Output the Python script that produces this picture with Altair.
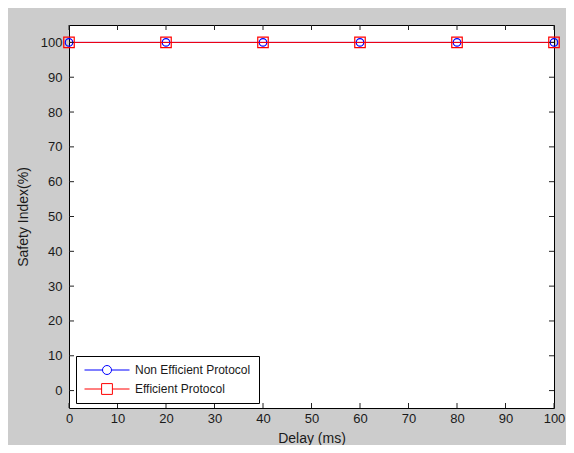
import altair as alt
import pandas as pd

# ---- data ----
delays = [0, 20, 40, 60, 80, 100]
non_efficient = [100, 100, 100, 100, 100, 100]
efficient = [100, 100, 100, 100, 100, 100]
series_names = ["Non Efficient Protocol", "Efficient Protocol"]
series_colors = ["#0000ff", "#ff0000"]
x_ticks = [0, 10, 20, 30, 40, 50, 60, 70, 80, 90, 100]
y_ticks = [0, 10, 20, 30, 40, 50, 60, 70, 80, 90, 100]

df = pd.DataFrame({
    "delay": delays + delays,
    "safety": non_efficient + efficient,
    "series": [series_names[0]] * len(delays) + [series_names[1]] * len(delays),
})
xt = pd.DataFrame({"t": x_ticks})
yt = pd.DataFrame({"t": y_ticks})

W, H = 485, 383
FONT = "Liberation Sans"
TXT = "#1a1a1a"

x_scale = alt.Scale(domain=[0, 100], nice=False, zero=False)
y_scale = alt.Scale(domain=[-5, 105], nice=False, zero=False)

x_axis = alt.Axis(values=x_ticks, title="Delay (ms)", ticks=False, domain=False, grid=False,
                  labelFlush=False, labelOverlap=False, labelPadding=4, titlePadding=6,
                  labelFont=FONT, labelFontSize=13, labelColor=TXT,
                  titleFont=FONT, titleFontSize=14, titleFontWeight="normal", titleColor=TXT)
y_axis = alt.Axis(values=y_ticks, title="Safety Index(%)", ticks=False, domain=False, grid=False,
                  labelFlush=False, labelOverlap=False, labelPadding=7, titlePadding=10,
                  labelFont=FONT, labelFontSize=13, labelColor=TXT,
                  titleFont=FONT, titleFontSize=14, titleFontWeight="normal", titleColor=TXT)

X = alt.X("delay:Q", scale=x_scale, axis=x_axis)
Y = alt.Y("safety:Q", scale=y_scale, axis=y_axis)

base = alt.Chart(df)

layers = []
for name, color, shape, size in [
    (series_names[0], series_colors[0], "circle", 56),
    (series_names[1], series_colors[1], "square", 110),
]:
    sub = base.transform_filter(alt.datum.series == name)
    layers.append(sub.mark_line(color=color, strokeWidth=1).encode(x=X, y=Y))
    layers.append(sub.mark_point(shape=shape, color=color, filled=False, size=size,
                                 strokeWidth=1.2, opacity=1).encode(x=X, y=Y))

circle_path = "M-1,0L-0.2,0M0.2,0L1,0M0.2,0A0.2,0.2,0,1,1,-0.2,0A0.2,0.2,0,1,1,0.2,0Z"
square_path = "M-1,0L-0.24,0M0.24,0L1,0M-0.24,-0.24L0.24,-0.24L0.24,0.24L-0.24,0.24Z"

leg = alt.Legend(title=None, orient="none", legendX=7, legendY=331, direction="vertical",
                 fillColor="white", strokeColor="black", padding=8, cornerRadius=0,
                 symbolSize=2025, symbolStrokeWidth=1, symbolOpacity=1, symbolOffset=0,
                 clipHeight=12, rowPadding=7, labelOffset=5,
                 labelFont=FONT, labelFontSize=12, labelColor=TXT)

legend_layer = base.mark_point(opacity=0, filled=False).encode(
    x=X, y=Y,
    color=alt.Color("series:N", scale=alt.Scale(domain=series_names, range=series_colors), legend=leg),
    shape=alt.Shape("series:N", scale=alt.Scale(domain=series_names, range=[circle_path, square_path]), legend=leg),
)

TICK = "#222222"
TX = alt.X("t:Q", scale=x_scale, axis=x_axis)
TY = alt.Y("t:Q", scale=y_scale, axis=y_axis)
bottom_ticks = alt.Chart(xt).mark_rule(color=TICK).encode(
    x=TX, y=alt.value(H), y2=alt.value(H - 5))
top_ticks = alt.Chart(xt).mark_rule(color=TICK).encode(
    x=TX, y=alt.value(0), y2=alt.value(5))
left_ticks = alt.Chart(yt).mark_rule(color=TICK).encode(
    y=TY, x=alt.value(0), x2=alt.value(5))
right_ticks = alt.Chart(yt).mark_rule(color=TICK).encode(
    y=TY, x=alt.value(W), x2=alt.value(W - 5))

chart = alt.layer(
    *layers, legend_layer, bottom_ticks, top_ticks, left_ticks, right_ticks
).properties(
    width=W, height=H, background="#cccccc",
    padding={"left": 61, "top": 17, "right": 12, "bottom": 37},
    autosize=alt.AutoSizeParams(type="none"),
).configure_view(
    fill="white", stroke="black", strokeWidth=1
)

chart.save("out.html", embed_options={"renderer": "svg", "actions": False})
